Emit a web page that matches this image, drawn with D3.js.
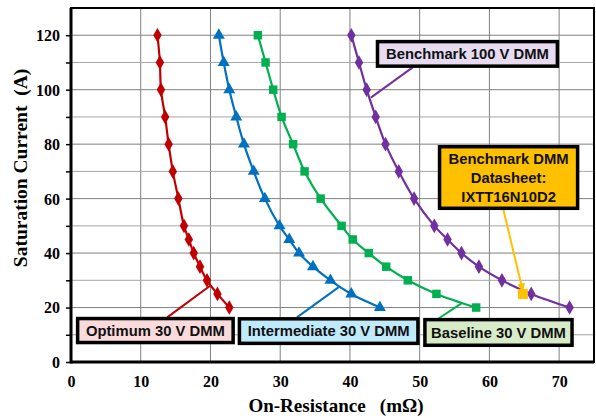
<!DOCTYPE html>
<html>
<head>
<meta charset="utf-8">
<script src="https://cdn.jsdelivr.net/npm/d3@7/dist/d3.min.js"></script>
<style>
  body { margin: 0; background: #fff; }
  svg { display: block; }
</style>
</head>
<body>
<div id="chart"></div>
<script>
'use strict';

// saturation current levels (A)
var currents = [120, 110, 100, 90, 80, 70, 60, 50, 45, 40, 35, 30, 25, 20];

// on-resistance (mOhm) at each current level
var optimum = [12.4, 12.75, 12.9, 13.5, 14.0, 14.6, 15.4, 16.2, 16.9, 17.6, 18.5, 19.5, 21.0, 22.7];
var intermediate = [21.2, 21.9, 22.7, 23.7, 24.8, 26.2, 27.8, 29.9, 31.3, 32.7, 34.7, 37.2, 40.2, 44.3];
var baseline = [26.8, 27.9, 29.0, 30.2, 31.85, 33.5, 35.8, 38.8, 40.4, 42.7, 45.2, 48.3, 52.4, 58.1];
var benchmark = [40.2, 41.3, 42.4, 43.7, 45.1, 47.0, 49.2, 52.1, 54.0, 56.0, 58.5, 61.8, 66.0, 71.5];

// datasheet point
var datasheet = [{ r: 64.8, i: 25 }];

var xTicks = [0, 10, 20, 30, 40, 50, 60, 70];
var yTicks = [0, 20, 40, 60, 80, 100, 120];

var width = 596, height = 418;
var margin = { top: 8, right: 2, bottom: 56, left: 71 };

var svg = d3.select('#chart').append('svg')
    .attr('width', width)
    .attr('height', height);

var x = d3.scaleLinear().domain([0, 75]).range([margin.left, width - margin.right]);
var y = d3.scaleLinear().domain([0, 130]).range([height - margin.bottom, margin.top]);

// grid
var grid = svg.append('g');
grid.selectAll('line.gx')
    .data(d3.range(10, 75, 10))
    .enter().append('line')
    .attr('x1', function(d) { return x(d); })
    .attr('x2', function(d) { return x(d); })
    .attr('y1', y(0)).attr('y2', y(130))
    .attr('stroke', '#808080').attr('stroke-width', 1);
grid.selectAll('line.gy')
    .data(d3.range(10, 130, 10))
    .enter().append('line')
    .attr('y1', function(d) { return y(d); })
    .attr('y2', function(d) { return y(d); })
    .attr('x1', x(0)).attr('x2', x(75))
    .attr('stroke', function(d) { return d % 20 === 0 ? '#808080' : '#a6a6a6'; })
    .attr('stroke-width', 1);

// frame
svg.append('rect')
    .attr('x', x(0)).attr('y', y(130))
    .attr('width', x(75) - x(0)).attr('height', y(0) - y(130))
    .attr('fill', 'none').attr('stroke', '#000').attr('stroke-width', 2);
svg.append('line')
    .attr('x1', x(0)).attr('x2', x(0)).attr('y1', y(0) + 1.5).attr('y2', y(130))
    .attr('stroke', '#000').attr('stroke-width', 3);
svg.append('line')
    .attr('x1', x(0)).attr('x2', x(75)).attr('y1', y(0)).attr('y2', y(0))
    .attr('stroke', '#000').attr('stroke-width', 3);

// axes
var xAxis = d3.axisBottom(x).tickValues(xTicks).tickSize(0).tickPadding(14);
var yAxis = d3.axisLeft(y).tickValues(d3.range(0, 130, 10)).tickSize(5).tickPadding(6)
    .tickFormat(function(d) { return yTicks.indexOf(d) >= 0 ? d : ''; });

var gx = svg.append('g').attr('transform', 'translate(0,' + y(0) + ')').call(xAxis);
var gy = svg.append('g').attr('transform', 'translate(' + x(0) + ',0)').call(yAxis);
[gx, gy].forEach(function(g) {
  g.select('.domain').remove();
  g.selectAll('line').attr('stroke', '#000').attr('stroke-width', 1.5);
  g.selectAll('text')
      .style('font-family', '"Liberation Serif", "Times New Roman", serif')
      .style('font-weight', 'bold')
      .style('font-size', '16px')
      .attr('fill', '#000');
});
gy.selectAll('text').attr('dy', '0.34em');

svg.append('text')
    .attr('x', 336).attr('y', 412)
    .attr('text-anchor', 'middle')
    .style('font-family', '"Liberation Serif", "Times New Roman", serif')
    .style('font-weight', 'bold')
    .style('font-size', '19px')
    .style('white-space', 'pre')
    .text('On-Resistance   (m\u03A9)');

svg.append('text')
    .attr('transform', 'translate(27,168) rotate(-90)')
    .attr('text-anchor', 'middle')
    .style('font-family', '"Liberation Serif", "Times New Roman", serif')
    .style('font-weight', 'bold')
    .style('font-size', '19.5px')
    .style('white-space', 'pre')
    .text('Saturation Current  (A)');

// series
var series = [
  { name: 'Optimum 30 V DMM', values: optimum, color: '#c00000', symbol: d3.symbolDiamond, size: 62 },
  { name: 'Intermediate 30 V DMM', values: intermediate, color: '#0070c0', symbol: d3.symbolTriangle, size: 62 },
  { name: 'Baseline 30 V DMM', values: baseline, color: '#00b050', symbol: d3.symbolSquare, size: 72 },
  { name: 'Benchmark 100 V DMM', values: benchmark, color: '#7030a0', symbol: d3.symbolDiamond, size: 62 }
];

var line = d3.line()
    .x(function(d) { return x(d.r); })
    .y(function(d) { return y(d.i); })
    .curve(d3.curveCatmullRom.alpha(0.5));

series.forEach(function(s) {
  var pts = s.values.map(function(v, k) { return { r: v, i: currents[k] }; });
  svg.append('path')
      .datum(pts)
      .attr('d', line)
      .attr('fill', 'none')
      .attr('stroke', s.color)
      .attr('stroke-width', 2.2);
  svg.append('g').selectAll('path')
      .data(pts)
      .enter().append('path')
      .attr('transform', function(d) { return 'translate(' + x(d.r) + ',' + y(d.i) + ')'; })
      .attr('d', d3.symbol().type(s.symbol).size(s.size))
      .attr('fill', s.color);
});

svg.append('g').selectAll('rect')
    .data(datasheet)
    .enter().append('rect')
    .attr('x', function(d) { return x(d.r) - 5; })
    .attr('y', function(d) { return y(d.i) - 5; })
    .attr('width', 10).attr('height', 10)
    .attr('fill', '#ffc000');

// callouts (data units): box corners and leader line
var callouts = [
  { lines: ['Optimum 30 V DMM'], fill: '#fadadb', stroke: '#c00000',
    x0: 0.7, x1: 23.5, y0: 16.6, y1: 6.5, from: [13.8, 16.4], to: [19.9, 27.9] },
  { lines: ['Intermediate 30 V DMM'], fill: '#bfeafb', stroke: '#0070c0',
    x0: 23.9, x1: 50.0, y0: 16.5, y1: 6.2, from: [32.4, 16.4], to: [38.4, 27.5] },
  { lines: ['Baseline 30 V DMM'], fill: '#d8ebc9', stroke: '#00b050',
    x0: 50.5, x1: 72.1, y0: 16.2, y1: 5.5, from: [52.5, 15.6], to: [56.1, 21.7] },
  { lines: ['Benchmark 100 V DMM'], fill: '#e6dbf1', stroke: '#7030a0',
    x0: 43.7, x1: 70.0, y0: 118.3, y1: 108.0, from: [49.0, 108.2], to: [43.0, 97.1] },
  { lines: ['Benchmark DMM', 'Datasheet:', 'IXTT16N10D2'], fill: '#ffc000', stroke: '#ffc000',
    x0: 52.6, x1: 72.9, y0: 79.7, y1: 55.8, from: [62.0, 56.0], to: [64.6, 28.2], arrow: true }
];

var defs = svg.append('defs');
defs.append('marker')
    .attr('id', 'arrow')
    .attr('viewBox', '0 0 10 10')
    .attr('refX', 2).attr('refY', 5)
    .attr('markerWidth', 4).attr('markerHeight', 4)
    .attr('orient', 'auto')
    .append('path')
    .attr('d', 'M0,0 L10,5 L0,10 z')
    .attr('fill', '#ffc000');

callouts.forEach(function(c) {
  svg.append('line')
      .attr('x1', x(c.from[0])).attr('y1', y(c.from[1]))
      .attr('x2', x(c.to[0])).attr('y2', y(c.to[1]))
      .attr('stroke', c.stroke)
      .attr('stroke-width', 2)
      .attr('marker-end', c.arrow ? 'url(#arrow)' : null);

  var bx = x(c.x0), by = y(c.y0), bw = x(c.x1) - x(c.x0), bh = y(c.y1) - y(c.y0);
  svg.append('rect')
      .attr('x', bx + 1.75).attr('y', by + 1.75)
      .attr('width', bw - 3.5).attr('height', bh - 3.5)
      .attr('fill', c.fill)
      .attr('stroke', '#000')
      .attr('stroke-width', 3.5);

  var t = svg.append('text')
      .attr('text-anchor', 'middle')
      .style('font-family', '"Liberation Sans", Arial, sans-serif')
      .style('font-weight', 'bold')
      .style('font-size', '14.8px')
      .attr('fill', '#111');
  var lh = 19;
  var cy = by + bh / 2 - (c.lines.length - 1) * lh / 2;
  c.lines.forEach(function(l, k) {
    t.append('tspan')
        .attr('x', bx + bw / 2)
        .attr('y', cy + k * lh)
        .attr('dy', '0.36em')
        .text(l);
  });
});
</script>
</body>
</html>
